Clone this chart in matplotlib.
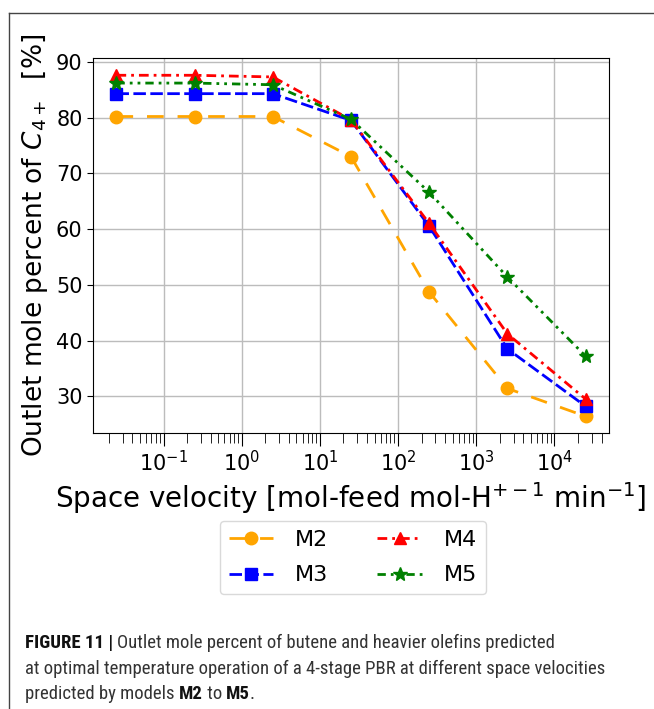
import numpy as np
import matplotlib
matplotlib.use('Agg')
import matplotlib.pyplot as plt
from matplotlib.lines import Line2D
from matplotlib import font_manager

# space velocity (log axis) and model predictions
space_velocity = [0.025, 0.25, 2.5, 25, 250, 2500, 25000]
m2 = [80.2, 80.2, 80.2, 73.0, 48.7, 31.4, 26.4]
m3 = [84.3, 84.3, 84.3, 79.5, 60.5, 38.5, 28.2]
m4 = [87.6, 87.6, 87.3, 79.6, 61.0, 41.2, 29.5]
m5 = [86.2, 86.2, 85.9, 79.7, 66.6, 51.4, 37.2]

fig = plt.figure(figsize=(6.54, 7.09), dpi=100)
ax = fig.add_axes([93/654, 1-433/709, (609-93)/654, (433-58)/709])

ax.plot(space_velocity, m2, color='orange', marker='o', ms=9, lw=2, dashes=(6, 5), label='M2')
ax.plot(space_velocity, m3, color='blue', marker='s', ms=9, lw=2, dashes=(4.5, 1.6), label='M3')
ax.plot(space_velocity, m4, color='red', marker='^', ms=9, lw=2, dashes=(3.5, 1.8, 1, 1.8), label='M4')
ax.plot(space_velocity, m5, color='green', marker='*', ms=10, lw=2,
        dashes=(3, 1.8, 1, 1.8, 1, 1.8), label='M5')

ax.set_xscale('log')
ax.set_ylim(23.4, 90.7)
ax.set_yticks([30, 40, 50, 60, 70, 80, 90])
ax.grid(True, which='major', color='#bcbcbc', lw=1)
ax.tick_params(axis='both', which='major', labelsize=15)
ax.tick_params(axis='x', which='major', length=9)
ax.tick_params(axis='x', which='minor', length=7)
ax.tick_params(axis='y', which='major', length=4)

ax.set_ylabel('Outlet mole percent of $C_{4+}$  [%]', fontsize=19)
ax.set_xlabel('Space velocity [mol-feed mol-H$^{+-1}$ min$^{-1}$]', fontsize=20, labelpad=3)

leg = fig.legend(loc='upper center', bbox_to_anchor=(353/654, 1-521/709), ncol=2,
                 fontsize=16, columnspacing=2.2, handletextpad=1.0, borderaxespad=0,
                 labelspacing=0.7)
leg.get_frame().set_edgecolor('#d0d0d0')

# frame lines around the figure panel
fig.add_artist(Line2D([9/654, 1], [1-13/709, 1-13/709], color='#444444', lw=1))
fig.add_artist(Line2D([9/654, 9/654], [0, 1-13/709], color='#444444', lw=1))

# caption: pick a narrow font if one is installed
names = set(f.name for f in font_manager.fontManager.ttflist)
cap_family = 'Roboto'
for cand in ['Liberation Sans Narrow', 'Roboto Condensed', 'Open Sans Condensed', 'Noto Sans Condensed']:
    if cand in names:
        cap_family = cand
        break
cap_font = [cap_family, 'DejaVu Sans']

cap_lines = [
    [('FIGURE 11 | ', 'bold'), ('Outlet mole percent of butene and heavier olefins predicted', 'normal')],
    [('at optimal temperature operation of a 4-stage PBR at different space velocities', 'normal')],
    [('predicted by models ', 'normal'), ('M2', 'bold'), (' to ', 'normal'), ('M5', 'bold'), ('.', 'normal')],
]
baselines = [648, 674, 699]
renderer = fig.canvas.get_renderer()

# size the caption so the second line spans the same width as in the figure
probe = fig.text(0, 0, cap_lines[1][0][0], fontsize=13, family=cap_font)
w = probe.get_window_extent(renderer=renderer).width
probe.remove()
cap_size = min(13.5, 13 * 604 / w)

for pieces, yb in zip(cap_lines, baselines):
    x = 25
    for txt, weight in pieces:
        t = fig.text(x/654, 1-yb/709, txt, fontsize=cap_size, family=cap_font, weight=weight,
                     color='#111111' if weight == 'bold' else '#333333',
                     va='baseline', ha='left')
        bb = t.get_window_extent(renderer=renderer)
        x += bb.width

fig.savefig('out.png', dpi=100)
